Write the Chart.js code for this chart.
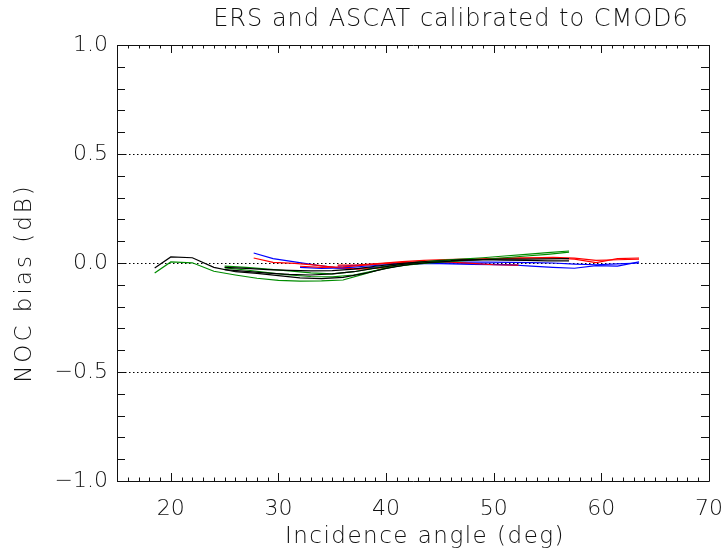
<!DOCTYPE html>
<html>
<head>
<meta charset="utf-8">
<title>ERS and ASCAT calibrated to CMOD6</title>
<script src="https://cdn.jsdelivr.net/npm/chart.js@4.4.1/dist/chart.umd.min.js"></script>
<style>
  html, body { margin: 0; padding: 0; background: #fff; }
</style>
</head>
<body>
<canvas id="biasChart" width="723" height="553"></canvas>
<script>
// ---- data (NOC bias in dB vs incidence angle) ----
var ersMidAngle = [18.5, 20, 22, 24, 26, 28, 30, 32, 34, 36, 38, 40, 42, 44, 46];
var ersMidBlack = [-0.023, 0.028, 0.024, -0.020, -0.040, -0.048, -0.058, -0.068, -0.072, -0.066, -0.048, -0.025, -0.008, 0.003, 0.008];
var ersMidGreen = [-0.046, 0.005, 0.001, -0.038, -0.055, -0.070, -0.080, -0.083, -0.082, -0.078, -0.050, -0.022, -0.008, 0.004, 0.010];

var ersFAAngle = [25, 27, 29, 31, 33, 35, 37, 39, 41, 43, 45, 47, 49, 51, 53, 55, 57];
var ersFABlack1 = [-0.020, -0.025, -0.030, -0.034, -0.036, -0.035, -0.028, -0.015, -0.004, 0.004, 0.010, 0.014, 0.015, 0.013, 0.012, 0.010, 0.010];
var ersFABlack2 = [-0.030, -0.038, -0.046, -0.052, -0.055, -0.050, -0.040, -0.024, -0.010, 0.000, 0.006, 0.012, 0.016, 0.018, 0.018, 0.019, 0.020];
var ersFAGreen1 = [-0.014, -0.020, -0.028, -0.036, -0.045, -0.050, -0.040, -0.022, -0.008, 0.004, 0.012, 0.018, 0.024, 0.032, 0.040, 0.048, 0.055];
var ersFAGreen2 = [-0.022, -0.032, -0.044, -0.055, -0.062, -0.064, -0.055, -0.035, -0.015, -0.004, 0.004, 0.010, 0.016, 0.024, 0.032, 0.040, 0.050];

var ascatFAAngle = [27.7, 29.5, 31.5, 33.5, 35.5, 37.5, 39.5, 41.5, 43.5, 45.5, 47.5, 49.5, 51.5, 53.5, 55.5, 57.5, 59.5, 61.5, 63.5];
var ascatRed1  = [0.023, 0.003, -0.002, -0.010, -0.022, -0.028, -0.022, -0.010, 0.000, 0.008, 0.014, 0.018, 0.021, 0.023, 0.023, 0.018, 0.002, 0.020, 0.023];
var ascatBlue1 = [0.046, 0.020, 0.005, -0.010, -0.022, -0.025, -0.018, -0.008, -0.002, 0.000, -0.002, -0.005, -0.008, -0.014, -0.020, -0.024, -0.012, -0.014, 0.005];

var ascatFA2Angle = [35.5, 37.5, 39.5, 41.5, 43.5, 45.5, 47.5, 49.5, 51.5, 53.5, 55.5, 57.5, 59.5, 61.5, 63.5];
var ascatRed2  = [-0.010, -0.008, -0.002, 0.006, 0.012, 0.016, 0.018, 0.020, 0.022, 0.024, 0.026, 0.022, 0.012, 0.015, 0.018];
var ascatBlue2 = [-0.015, -0.010, -0.004, 0.000, 0.002, 0.003, 0.004, 0.004, 0.003, 0.002, 0.000, -0.005, -0.008, -0.004, 0.000];

var ascatMidAngle = [32, 34, 36, 38, 40, 42, 44, 46, 48, 50, 52.3];
var ascatMidRed  = [-0.015, -0.020, -0.018, -0.010, -0.002, 0.004, 0.006, 0.004, -0.002, -0.008, -0.010];
var ascatMidBlue = [-0.020, -0.025, -0.022, -0.015, -0.008, -0.004, -0.002, -0.004, -0.006, -0.008, -0.010];

var xTickLabels = [20, 30, 40, 50, 60, 70];
var yTickLabels = [-1.0, -0.5, 0.0, 0.5, 1.0];
var refLines = [-0.5, 0.0, 0.5];

var FONT = "'DejaVu Sans', 'Liberation Sans', sans-serif";
var INK = '#111';

function pts(xs, ys) {
  return xs.map(function (x, i) { return { x: x, y: ys[i] }; });
}

function line(xs, ys, color) {
  return {
    data: pts(xs, ys),
    borderColor: color,
    borderWidth: 1.2,
    pointRadius: 0,
    showLine: true,
    fill: false,
    tension: 0
  };
}

function spacedText(ctx, text, x, y, size, spacing) {
  ctx.font = '200 ' + size + 'px ' + FONT;
  ctx.letterSpacing = spacing + 'px';
  ctx.textAlign = 'center';
  ctx.textBaseline = 'middle';
  ctx.fillText(text, x, y);
}

// frame with inward ticks on all four sides, dotted reference lines, titles
var idlFrame = {
  id: 'idlFrame',
  beforeDatasetsDraw: function (chart) {
    var ctx = chart.ctx, a = chart.chartArea, y = chart.scales.y;
    ctx.save();
    ctx.strokeStyle = '#000';
    ctx.lineWidth = 1;
    ctx.setLineDash([1.5, 2.5]);
    refLines.forEach(function (v) {
      var py = Math.round(y.getPixelForValue(v)) + 0.5;
      ctx.beginPath();
      ctx.moveTo(a.left, py);
      ctx.lineTo(a.right, py);
      ctx.stroke();
    });
    ctx.restore();
  },
  afterDatasetsDraw: function (chart) {
    var ctx = chart.ctx, a = chart.chartArea, xs = chart.scales.x, ys = chart.scales.y;
    ctx.save();
    ctx.strokeStyle = INK;
    ctx.lineWidth = 1;
    ctx.beginPath();
    ctx.rect(Math.round(a.left) + 0.5, Math.round(a.top) + 0.5,
             Math.round(a.right - a.left), Math.round(a.bottom - a.top));
    ctx.stroke();
    ctx.beginPath();
    for (var d = 15; d <= 70; d++) {
      var len = (d % 10 === 0) ? 8 : 3.5;
      var px = Math.round(xs.getPixelForValue(d)) + 0.5;
      ctx.moveTo(px, a.bottom); ctx.lineTo(px, a.bottom - len);
      ctx.moveTo(px, a.top); ctx.lineTo(px, a.top + len);
    }
    for (var k = -10; k <= 10; k++) {
      var py = Math.round(ys.getPixelForValue(k / 10)) + 0.5;
      ctx.moveTo(a.left, py); ctx.lineTo(a.left + 8, py);
      ctx.moveTo(a.right, py); ctx.lineTo(a.right - 8, py);
    }
    ctx.stroke();

    ctx.fillStyle = INK;
    spacedText(ctx, 'ERS and ASCAT calibrated to CMOD6', 451, 20, 24, 1);
    spacedText(ctx, 'Incidence angle (deg)', 425, 537, 23, 1.5);
    ctx.translate(25, 283);
    ctx.rotate(-Math.PI / 2);
    spacedText(ctx, 'NOC bias (dB)', 0, 0, 23, 3);
    ctx.restore();
  }
};

new Chart(document.getElementById('biasChart'), {
  type: 'scatter',
  data: {
    datasets: [
      line(ersMidAngle, ersMidBlack, '#000000'),
      line(ersMidAngle, ersMidGreen, '#008c00'),
      line(ersFAAngle, ersFABlack1, '#000000'),
      line(ersFAAngle, ersFABlack2, '#000000'),
      line(ersFAAngle, ersFAGreen1, '#008c00'),
      line(ersFAAngle, ersFAGreen2, '#008c00'),
      line(ascatMidAngle, ascatMidRed, '#ff0000'),
      line(ascatMidAngle, ascatMidBlue, '#0000ff'),
      line(ascatFA2Angle, ascatRed2, '#ff0000'),
      line(ascatFA2Angle, ascatBlue2, '#0000ff'),
      line(ascatFAAngle, ascatRed1, '#ff0000'),
      line(ascatFAAngle, ascatBlue1, '#0000ff')
    ]
  },
  options: {
    responsive: false,
    animation: false,
    layout: { padding: { top: 45, right: 0, left: 0, bottom: 0 } },
    plugins: {
      legend: { display: false },
      tooltip: { enabled: false }
    },
    scales: {
      x: {
        type: 'linear',
        min: 15,
        max: 70,
        grid: { display: false, drawTicks: false },
        border: { display: false },
        afterBuildTicks: function (s) {
          s.ticks = xTickLabels.map(function (v) { return { value: v }; });
        },
        afterFit: function (s) {
          s.height = 72;
          s.paddingLeft = 0;
          s.paddingRight = 14;
        },
        ticks: {
          padding: 15,
          color: INK,
          font: { family: FONT, size: 22, weight: '200' },
          maxRotation: 0
        }
      },
      y: {
        min: -1.0,
        max: 1.0,
        grid: { display: false, drawTicks: false },
        border: { display: false },
        afterBuildTicks: function (s) {
          s.ticks = yTickLabels.map(function (v) { return { value: v }; });
        },
        afterFit: function (s) {
          s.width = 117;
          s.paddingTop = 0;
          s.paddingBottom = 0;
        },
        ticks: {
          padding: 9,
          color: INK,
          font: { family: FONT, size: 22, weight: '200' },
          callback: function (v) {
            var t = Math.abs(v).toFixed(1);
            return v < 0 ? '\u2212' + t : t;
          }
        }
      }
    }
  },
  plugins: [idlFrame]
});
</script>
</body>
</html>
